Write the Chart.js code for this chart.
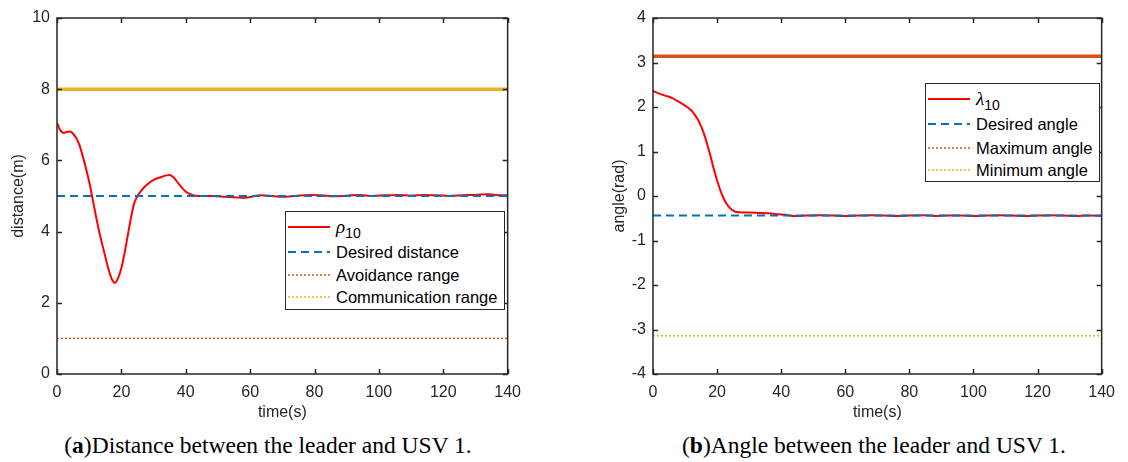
<!DOCTYPE html>
<html>
<head>
<meta charset="utf-8">
<script src="https://cdn.jsdelivr.net/npm/chart.js@4/dist/chart.umd.min.js"></script>
<style>
  body { margin: 0; background: #fff; width: 1128px; height: 462px; position: relative; overflow: hidden; }
  .box { position: absolute; top: 0; width: 530px; height: 426px; }
  .legend { position: absolute; background: #fff; border: 1.5px solid #262626; box-sizing: border-box;
    font-family: "Liberation Sans", Arial, sans-serif; font-size: 16.5px; color: #000; }
  .row { position: absolute; left: 0; height: 22px; display: flex; align-items: center; white-space: nowrap; }
  .row svg { margin-right: 4px; }
  .caption { position: absolute; top: 432px; font-family: "Liberation Serif", "Times New Roman", serif;
    font-size: 23.5px; color: #000; white-space: nowrap; text-align: center; }
  .sym { font-family: "Liberation Serif", serif; font-style: italic; font-size: 19px; }
  .sub { font-size: 14px; position: relative; top: 6px; }
</style>
</head>
<body>
<div class="box" style="left:0"><canvas id="chart-a"></canvas></div>
<div class="box" style="left:594px"><canvas id="chart-b"></canvas></div>

<div class="legend" style="left:285px;top:211px;width:220px;height:99px">
  <div class="row" style="top:4px"><svg width="46" height="4"><line x1="2" y1="2" x2="44" y2="2" stroke="#FF0000" stroke-width="2"/></svg><span class="sym">ρ</span><span class="sub">10</span></div>
  <div class="row" style="top:29px"><svg width="46" height="4"><line x1="2" y1="2" x2="44" y2="2" stroke="#0072BD" stroke-width="2" stroke-dasharray="8 5"/></svg>Desired distance</div>
  <div class="row" style="top:52px"><svg width="46" height="4"><line x1="2" y1="2" x2="44" y2="2" stroke="#D95319" stroke-width="1.5" stroke-dasharray="2 2"/></svg>Avoidance range</div>
  <div class="row" style="top:74px"><svg width="46" height="4"><line x1="2" y1="2" x2="44" y2="2" stroke="#EDB120" stroke-width="1.5" stroke-dasharray="2 2"/></svg>Communication range</div>
</div>

<div class="legend" style="left:925px;top:83px;width:175px;height:99px">
  <div class="row" style="top:4px"><svg width="46" height="4"><line x1="2" y1="2" x2="44" y2="2" stroke="#FF0000" stroke-width="2"/></svg><span class="sym">λ</span><span class="sub">10</span></div>
  <div class="row" style="top:29px"><svg width="46" height="4"><line x1="2" y1="2" x2="44" y2="2" stroke="#0072BD" stroke-width="2" stroke-dasharray="8 5"/></svg>Desired angle</div>
  <div class="row" style="top:53px"><svg width="46" height="4"><line x1="2" y1="2" x2="44" y2="2" stroke="#D95319" stroke-width="1.5" stroke-dasharray="2 2"/></svg>Maximum angle</div>
  <div class="row" style="top:75px"><svg width="46" height="4"><line x1="2" y1="2" x2="44" y2="2" stroke="#EDB120" stroke-width="1.5" stroke-dasharray="2 2"/></svg>Minimum angle</div>
</div>

<div class="caption" style="left:-22px;width:580px">(<b>a</b>)Distance between the leader and USV 1.</div>
<div class="caption" style="left:584px;width:580px">(<b>b</b>)Angle between the leader and USV 1.</div>

<script>
// time samples (s) and distance rho_10 (m)
const timeA = [0, 1, 2, 3, 4, 5, 6, 7, 8, 9, 10, 11, 12, 13, 14, 15, 16, 17, 18, 19, 20, 21, 22, 23, 24, 25, 26, 28, 30, 32, 34, 35, 36, 37, 38, 40, 42, 44, 48, 52, 56, 58, 60, 63, 66, 70, 74, 78, 82, 86, 90, 94, 98, 102, 106, 110, 114, 118, 122, 126, 130, 134, 136, 140];
const rho10 = [7.05, 6.85, 6.77, 6.80, 6.81, 6.75, 6.62, 6.42, 6.12, 5.78, 5.40, 4.95, 4.48, 4.04, 3.66, 3.30, 2.94, 2.67, 2.56, 2.70, 2.98, 3.40, 3.90, 4.40, 4.80, 5.00, 5.13, 5.32, 5.45, 5.52, 5.58, 5.59, 5.54, 5.44, 5.32, 5.12, 5.03, 5.00, 5.00, 4.98, 4.96, 4.95, 4.97, 5.02, 5.01, 4.98, 5.00, 5.03, 5.02, 4.99, 5.01, 5.03, 5.00, 5.02, 5.03, 5.01, 5.03, 5.02, 5.00, 5.02, 5.03, 5.05, 5.03, 5.02];

// time samples (s) and angle lambda_10 (rad)
const timeB = [0, 2, 4, 6, 8, 10, 12, 13, 14, 15, 16, 17, 18, 19, 20, 21, 22, 23, 24, 25, 26, 28, 30, 33, 36, 39, 42, 44, 48, 52, 56, 60, 64, 68, 72, 76, 80, 84, 88, 92, 96, 100, 104, 108, 112, 116, 120, 124, 128, 132, 136, 140];
const lambda10 = [2.36, 2.30, 2.25, 2.20, 2.12, 2.03, 1.92, 1.83, 1.72, 1.57, 1.38, 1.14, 0.88, 0.60, 0.35, 0.13, -0.05, -0.18, -0.27, -0.33, -0.36, -0.37, -0.37, -0.38, -0.39, -0.41, -0.43, -0.45, -0.44, -0.43, -0.44, -0.45, -0.44, -0.43, -0.44, -0.45, -0.44, -0.43, -0.45, -0.44, -0.44, -0.45, -0.44, -0.43, -0.44, -0.45, -0.44, -0.43, -0.44, -0.45, -0.44, -0.45];

// reference lines (endpoints in time)
const refTime = [0, 140];
const desiredDistance = [5, 5];
const avoidanceRange = [1, 1];
const commRange = [8, 8];
const desiredAngle = [-0.44, -0.44];
const maxAngle = [3.1416, 3.1416];
const minAngle = [-3.1416, -3.1416];

const xTicks = [0, 20, 40, 60, 80, 100, 120, 140];
const yTicksA = [0, 2, 4, 6, 8, 10];
const yTicksB = [-4, -3, -2, -1, 0, 1, 2, 3, 4];

const axisColor = '#262626';
const sansFont = 'Liberation Sans';

function pts(xs, ys) {
  return xs.map((x, i) => ({ x: x, y: ys[i] }));
}

// box around the plot + inward tick marks like matlab
const frameTicks = {
  id: 'frameTicks',
  afterDatasetsDraw(chart) {
    const { ctx, chartArea: a, scales } = chart;
    ctx.save();
    ctx.strokeStyle = axisColor;
    ctx.lineWidth = 1.5;
    ctx.strokeRect(a.left, a.top, a.right - a.left, a.bottom - a.top);
    ctx.beginPath();
    scales.x.ticks.forEach((t) => {
      const px = Math.round(scales.x.getPixelForValue(t.value)) + 0.5;
      ctx.moveTo(px, a.bottom); ctx.lineTo(px, a.bottom - 5);
      ctx.moveTo(px, a.top); ctx.lineTo(px, a.top + 5);
    });
    scales.y.ticks.forEach((t) => {
      const py = Math.round(scales.y.getPixelForValue(t.value)) + 0.5;
      ctx.moveTo(a.left, py); ctx.lineTo(a.left + 5, py);
      ctx.moveTo(a.right, py); ctx.lineTo(a.right - 5, py);
    });
    ctx.stroke();
    ctx.restore();
  }
};

function makeOptions(yMin, yMax, yTicks, yTitle, yWidth, titlePad, rightPad) {
  return {
    responsive: true,
    maintainAspectRatio: false,
    animation: false,
    layout: { padding: { top: 18, right: rightPad, left: 0, bottom: 0 } },
    plugins: { legend: { display: false }, tooltip: { enabled: false } },
    elements: { point: { radius: 0 } },
    scales: {
      x: {
        type: 'linear', min: 0, max: 140,
        afterBuildTicks: (s) => { s.ticks = xTicks.map((v) => ({ value: v })); },
        afterFit: (s) => { s.height = 52; },
        grid: { display: false, drawTicks: false },
        border: { display: false },
        ticks: { color: axisColor, padding: 9, font: { family: sansFont, size: 16 }, maxRotation: 0 },
        title: { display: true, text: 'time(s)', color: axisColor, padding: { top: 4 }, font: { family: sansFont, size: 16 } }
      },
      y: {
        min: yMin, max: yMax,
        afterBuildTicks: (s) => { s.ticks = yTicks.map((v) => ({ value: v })); },
        afterFit: (s) => { s.width = yWidth; },
        grid: { display: false, drawTicks: false },
        border: { display: false },
        ticks: { color: axisColor, padding: 7, font: { family: sansFont, size: 16 } },
        title: { display: true, text: yTitle, color: axisColor, padding: { top: titlePad, bottom: 0 }, font: { family: sansFont, size: 16 } }
      }
    }
  };
}

function initChartA() {
  const ctx = document.getElementById('chart-a').getContext('2d');
  new Chart(ctx, {
    type: 'line',
    data: {
      datasets: [
        { data: pts(refTime, commRange), borderColor: '#EDB120', borderWidth: 3.5 },
        { data: pts(refTime, avoidanceRange), borderColor: '#D95319', borderWidth: 1.5, borderDash: [2, 2] },
        { data: pts(refTime, desiredDistance), borderColor: '#0072BD', borderWidth: 2, borderDash: [8, 5] },
        { data: pts(timeA, rho10), borderColor: '#FF0000', borderWidth: 2, cubicInterpolationMode: 'monotone' }
      ]
    },
    options: makeOptions(0, 10, yTicksA, 'distance(m)', 57, 9, 19),
    plugins: [frameTicks]
  });
}

function initChartB() {
  const ctx = document.getElementById('chart-b').getContext('2d');
  new Chart(ctx, {
    type: 'line',
    data: {
      datasets: [
        { data: pts(refTime, maxAngle), borderColor: '#D95319', borderWidth: 3.5 },
        { data: pts(refTime, minAngle), borderColor: '#EDB120', borderWidth: 1.5, borderDash: [2, 2] },
        { data: pts(refTime, desiredAngle), borderColor: '#0072BD', borderWidth: 2, borderDash: [8, 5] },
        { data: pts(timeB, lambda10), borderColor: '#FF0000', borderWidth: 2, cubicInterpolationMode: 'monotone' }
      ]
    },
    options: makeOptions(-4, 4, yTicksB, 'angle(rad)', 59, 16, 17),
    plugins: [frameTicks]
  });
}

initChartA();
initChartB();
</script>
</body>
</html>
